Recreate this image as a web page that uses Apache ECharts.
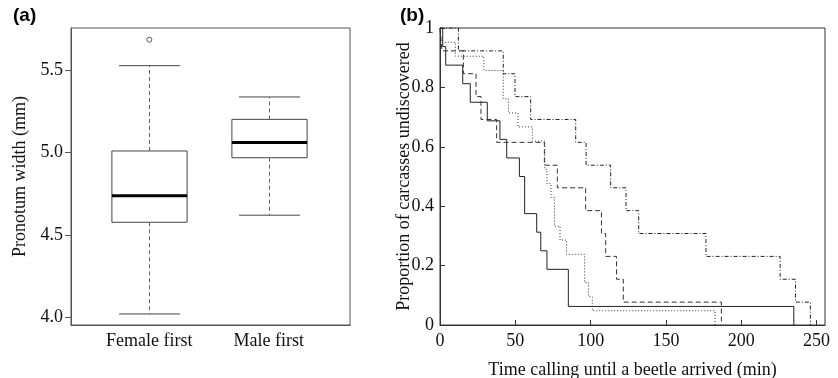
<!DOCTYPE html>
<html><head><meta charset="utf-8">
<script src="https://cdn.jsdelivr.net/npm/echarts@6/dist/echarts.min.js"></script>
<style>html,body{margin:0;padding:0;background:#fff}#c{width:838px;height:378px}</style>
</head><body><div id="c"></div>
<script>
// ---------- Panel (a): boxplot data ----------
const groups = ['Female first', 'Male first'];
const boxMin = [4.02, 4.62];
const boxQ1  = [4.577, 4.969];
const boxMed = [4.738, 5.062];
const boxQ3  = [5.01, 5.202];
const boxMax = [5.528, 5.338];
const outlierGroup = [0];
const outlierValue = [5.686];
const yTicksA = [4.0, 4.5, 5.0, 5.5];

// ---------- Panel (b): Kaplan-Meier curves ----------
const solidTimes = [1.8, 3.8, 15.1, 20.1, 31.4, 39.8, 44.3, 52.7, 56.2, 64.2, 66.9, 71.0, 85.2, 234.9];
const solidSurv  = [0.9375, 0.875, 0.8125, 0.75, 0.6875, 0.625, 0.5625, 0.5, 0.375, 0.3125, 0.25, 0.1875, 0.0625, 0];
const dashedTimes = [1.3, 15.5, 23.9, 27.2, 37.6, 69.3, 77.9, 96.7, 107.2, 110.0, 117.2, 121.7, 186.8];
const dashedSurv  = [0.923, 0.846, 0.769, 0.692, 0.615, 0.538, 0.462, 0.385, 0.308, 0.231, 0.154, 0.077, 0];
const dottedTimes = [0.7, 10.2, 29.1, 42.0, 45.4, 51.8, 61.3, 69.6, 71.0, 73.7, 76.0, 79.7, 84.0, 96.0, 98.6, 101.1, 182.6];
const dottedSurv  = [0.952, 0.905, 0.857, 0.762, 0.714, 0.667, 0.619, 0.524, 0.476, 0.429, 0.333, 0.286, 0.238, 0.143, 0.095, 0.048, 0];
const dashDotTimes = [12.2, 42.0, 49.8, 60.2, 90.1, 97.0, 113.3, 123.5, 131.9, 176.6, 225.8, 236.0, 245.9];
const dashDotSurv  = [0.923, 0.846, 0.769, 0.692, 0.615, 0.538, 0.462, 0.385, 0.308, 0.231, 0.154, 0.077, 0];
const xTicksB = [0, 50, 100, 150, 200, 250];
const yTicksB = [0, 0.2, 0.4, 0.6, 0.8, 1];

const SERIF = '"Liberation Serif", "Times New Roman", serif';

function kmSteps(times, surv) {
  const pts = [[0, 1]];
  let prev = 1;
  for (let i = 0; i < times.length; i++) {
    pts.push([times[i], prev]);
    pts.push([times[i], surv[i]]);
    prev = surv[i];
  }
  return pts;
}

const boxData = groups.map((g, i) => [i + 1, boxMin[i], boxQ1[i], boxMed[i], boxQ3[i], boxMax[i]]);
const outlierData = outlierGroup.map((g, i) => [g + 1, outlierValue[i]]);

const chart = echarts.init(document.getElementById('c'), null, {renderer: 'canvas'});

function kmSeries(times, surv, dash, color) {
  return {
    type: 'line', xAxisIndex: 1, yAxisIndex: 1,
    data: kmSteps(times, surv), showSymbol: false, symbol: 'none',
    animation: false, silent: true,
    lineStyle: {color: color, width: 1, type: dash}
  };
}

const option = {
  animation: false,
  backgroundColor: '#fff',
  title: [
    {text: '(a)', left: 13, top: 6, padding: 0, textStyle: {fontFamily: '"Liberation Sans", Arial, sans-serif', fontWeight: 'bold', fontSize: 19, color: '#000'}},
    {text: '(b)', left: 400, top: 6, padding: 0, textStyle: {fontFamily: '"Liberation Sans", Arial, sans-serif', fontWeight: 'bold', fontSize: 19, color: '#000'}}
  ],
  grid: [
    {left: 71, top: 28, width: 279, height: 297, outerBoundsMode: 'none', containLabel: false, show: true, borderColor: '#555', borderWidth: 1, backgroundColor: 'transparent'},
    {left: 440, top: 28, width: 385, height: 297, outerBoundsMode: 'none', containLabel: false, show: true, borderColor: '#333', borderWidth: 1, backgroundColor: 'transparent'}
  ],
  xAxis: [
    {
      gridIndex: 0, type: 'value', min: 0.344, max: 2.681,
      axisLine: {show: true, lineStyle: {color: '#555'}},
      axisTick: {show: false},
      splitLine: {show: false},
      axisLabel: {
        customValues: [1, 2], margin: 7,
        formatter: v => groups[Math.round(v) - 1] || '',
        fontFamily: SERIF, fontSize: 18, color: '#111'
      }
    },
    {
      gridIndex: 1, type: 'value', min: 0, max: 255.6,
      name: 'Time calling until a beetle arrived (min)', nameLocation: 'middle', nameGap: 36,
      nameMoveOverlap: false,
      nameTextStyle: {fontFamily: SERIF, fontSize: 18, color: '#111'},
      axisLine: {show: true, lineStyle: {color: '#333'}},
      axisTick: {show: true, inside: true, length: 5, customValues: xTicksB, lineStyle: {color: '#333'}},
      splitLine: {show: false},
      axisLabel: {customValues: xTicksB, margin: 7, fontFamily: SERIF, fontSize: 18, color: '#111'}
    }
  ],
  yAxis: [
    {
      gridIndex: 0, type: 'value', min: 3.953, max: 5.757,
      name: 'Pronotum width (mm)', nameLocation: 'middle', nameGap: 42,
      nameMoveOverlap: false,
      nameTextStyle: {fontFamily: SERIF, fontSize: 18, color: '#111'},
      axisLine: {show: true, lineStyle: {color: '#555'}},
      axisTick: {show: true, inside: false, length: 6, customValues: yTicksA, lineStyle: {color: '#555'}},
      splitLine: {show: false},
      axisLabel: {customValues: yTicksA, margin: 8, formatter: v => v.toFixed(1), fontFamily: SERIF, fontSize: 18, color: '#111'}
    },
    {
      gridIndex: 1, type: 'value', min: 0, max: 1,
      name: 'Proportion of carcasses undiscovered', nameLocation: 'middle', nameGap: 27,
      nameMoveOverlap: false,
      nameTextStyle: {fontFamily: SERIF, fontSize: 18, color: '#111'},
      axisLine: {show: true, lineStyle: {color: '#333'}},
      axisTick: {show: true, inside: true, length: 5, customValues: yTicksB, lineStyle: {color: '#333'}},
      splitLine: {show: false},
      axisLabel: {customValues: yTicksB, margin: 6, formatter: v => String(+v.toFixed(1)), fontFamily: SERIF, fontSize: 18, color: '#111'}
    }
  ],
  series: [
    {
      type: 'custom', xAxisIndex: 0, yAxisIndex: 0, silent: true,
      data: boxData,
      encode: {x: 0, y: [1, 2, 3, 4, 5]},
      renderItem: function (params, api) {
        const x = api.value(0);
        const lo = api.coord([x, api.value(1)]);
        const q1 = api.coord([x, api.value(2)]);
        const md = api.coord([x, api.value(3)]);
        const q3 = api.coord([x, api.value(4)]);
        const hi = api.coord([x, api.value(5)]);
        const bw = api.size([0.63, 0])[0];
        const cw = api.size([0.51, 0])[0];
        const cx = Math.round(lo[0]) + 0.5;
        const whisk = {stroke: '#666', lineWidth: 1, lineDash: [4, 3], fill: null};
        const cap = {stroke: '#444', lineWidth: 1, fill: null};
        return {type: 'group', children: [
          {type: 'line', shape: {x1: cx, y1: q3[1], x2: cx, y2: hi[1]}, style: whisk},
          {type: 'line', shape: {x1: cx, y1: q1[1], x2: cx, y2: lo[1]}, style: whisk},
          {type: 'line', shape: {x1: cx - cw / 2, y1: hi[1], x2: cx + cw / 2, y2: hi[1]}, style: cap},
          {type: 'line', shape: {x1: cx - cw / 2, y1: lo[1], x2: cx + cw / 2, y2: lo[1]}, style: cap},
          {type: 'rect', shape: {x: cx - bw / 2, y: q3[1], width: bw, height: q1[1] - q3[1]}, style: {fill: '#fff', stroke: '#444', lineWidth: 1}},
          {type: 'line', shape: {x1: cx - bw / 2, y1: md[1], x2: cx + bw / 2, y2: md[1]}, style: {stroke: '#000', lineWidth: 3}}
        ]};
      }
    },
    {
      type: 'scatter', xAxisIndex: 0, yAxisIndex: 0, silent: true,
      data: outlierData, symbol: 'circle', symbolSize: 5,
      itemStyle: {color: '#fff', borderColor: '#333', borderWidth: 1}
    },
    kmSeries(solidTimes, solidSurv, 'solid', '#222'),
    kmSeries(dashedTimes, dashedSurv, [5, 3], '#333'),
    kmSeries(dottedTimes, dottedSurv, [1, 2], '#333'),
    kmSeries(dashDotTimes, dashDotSurv, [4, 2, 1, 2], '#222')
  ]
};
chart.setOption(option);
</script>
</body></html>
